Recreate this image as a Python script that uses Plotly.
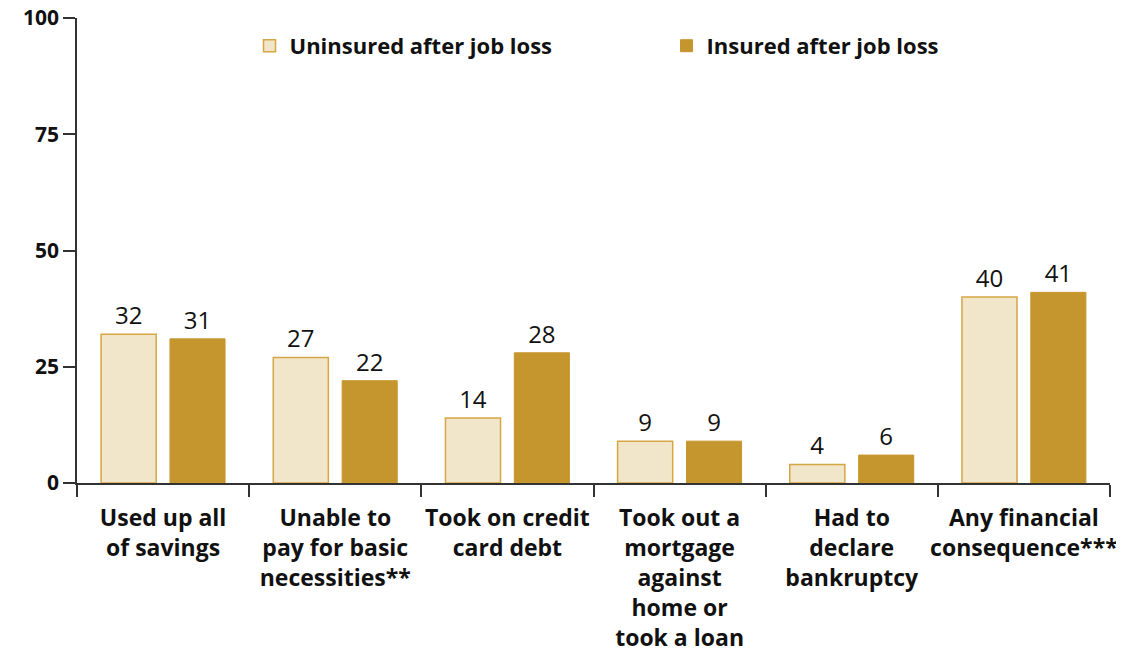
import plotly.graph_objects as go

categories = [
    "Used up all<br>of savings",
    "Unable to<br>pay for basic<br>necessities**",
    "Took on credit<br>card debt",
    "Took out a<br>mortgage<br>against<br>home or<br>took a loan",
    "Had to<br>declare<br>bankruptcy",
    "Any financial<br>consequence***",
]
uninsured = [32, 27, 14, 9, 4, 40]
insured = [31, 22, 28, 9, 6, 41]
series_names = ["Uninsured after job loss", "Insured after job loss"]
y_ticks = [0, 25, 50, 75, 100]

FONT = "Open Sans"
light_fill = "#F1E6CA"
light_line = "#D6A544"
dark_fill = "#C6962E"

fig = go.Figure()
fig.add_trace(go.Bar(
    x=categories, y=uninsured, name=series_names[0],
    marker=dict(color=light_fill, line=dict(color=light_line, width=1.5)),
    text=[str(v) for v in uninsured], textposition="outside",
    textfont=dict(family=FONT, size=24, color="#111"), cliponaxis=False,
))
fig.add_trace(go.Bar(
    x=categories, y=insured, name=series_names[1],
    marker=dict(color=dark_fill, line=dict(color=dark_fill, width=1)),
    text=[str(v) for v in insured], textposition="outside",
    textfont=dict(family=FONT, size=24, color="#111"), cliponaxis=False,
))

fig.update_layout(
    width=1116, height=649,
    margin=dict(l=69, r=14, t=10, b=174, autoexpand=False),
    paper_bgcolor="white", plot_bgcolor="white",
    barmode="group", bargap=0.2, bargroupgap=0.2,
    font=dict(family=FONT, color="#111"),
    showlegend=True,
    legend=dict(
        orientation="h", x=0.167, y=0.94, xanchor="left", yanchor="middle",
        font=dict(family=FONT, size=22, color="#111", weight="bold"),
        entrywidth=372, entrywidthmode="pixels",
        bgcolor="rgba(0,0,0,0)",
    ),
)
fig.update_yaxes(
    range=[0, 100], tickvals=y_ticks, ticktext=[str(t) for t in y_ticks],
    showgrid=False, zeroline=False,
    showline=True, linecolor="#333", linewidth=1.5,
    ticks="outside", ticklen=12, tickcolor="#333", tickwidth=1.5,
    tickfont=dict(family=FONT, size=21, color="#111", weight="bold"),
    ticklabeloverflow="allow",
)
fig.update_xaxes(
    showgrid=False, showline=True, linecolor="#333", linewidth=1.5,
    ticks="outside", tickson="boundaries", ticklen=12, tickcolor="#333", tickwidth=1.5,
    tickfont=dict(family=FONT, size=23, color="#111", weight="bold"),
    tickangle=0, ticklabelstandoff=14, ticklabeloverflow="allow",
)

fig.write_html("out.html")
